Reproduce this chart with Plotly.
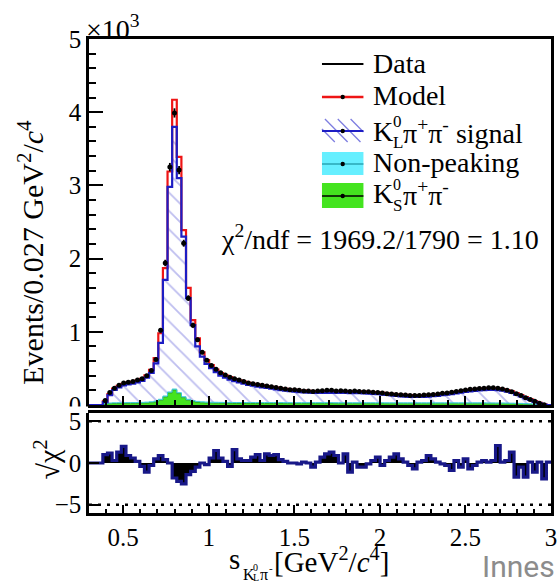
import math
import plotly.graph_objects as go

# ---------------------------------------------------------------------------
# Histogram binning: 100 bins of 0.027 GeV^2/c^4 starting at 0.3
# ---------------------------------------------------------------------------
bin_lo = 0.3
bin_width = 0.027
n_bins = 100

# Observed events per bin
data_counts = [
    0, 0, 0, 60, 170, 230, 270, 300, 310, 320,
    340, 360, 400, 470, 620, 1020, 1940, 3250, 3990, 3210,
    2210, 1460, 1090, 890, 720, 610, 540, 490, 440, 410,
    380, 360, 340, 320, 300, 290, 280, 270, 260, 250,
    240, 230, 220, 210, 210, 200, 190, 190, 185, 190,
    195, 200, 200, 190, 195, 190, 185, 190, 185, 180,
    180, 175, 170, 165, 155, 150, 145, 140, 135, 130,
    130, 130, 135, 140, 145, 150, 160, 165, 175, 185,
    195, 205, 215, 220, 225, 230, 235, 235, 230, 220,
    200, 180, 155, 130, 100, 75, 50, 25, 5, 0,
]

# Total fit model
model_counts = [
    0, 0, 0, 50, 150, 225, 262, 290, 305, 316,
    335, 358, 405, 480, 640, 980, 1870, 3190, 4170, 3390,
    2390, 1600, 1160, 910, 720, 615, 545, 485, 435, 405,
    380, 355, 338, 320, 302, 290, 278, 268, 258, 248,
    238, 229, 220, 212, 207, 201, 196, 192, 190, 189,
    189, 190, 190, 190, 189, 188, 187, 186, 185, 183,
    180, 176, 172, 166, 160, 153, 147, 141, 137, 134,
    132, 132, 133, 137, 142, 148, 155, 163, 171, 180,
    190, 200, 208, 215, 221, 226, 229, 229, 226, 218,
    205, 186, 162, 136, 108, 80, 54, 30, 10, 0,
]

# K_L pi+ pi- signal component
signal_counts = [
    0, 0, 0, 40, 135, 205, 240, 268, 283, 292,
    310, 330, 375, 440, 570, 850, 1710, 2980, 3800, 3100,
    2300, 1460, 1090, 800, 660, 560, 505, 450, 400, 372,
    348, 325, 308, 292, 275, 263, 252, 242, 232, 223,
    213, 204, 196, 188, 183, 177, 172, 168, 166, 165,
    165, 166, 166, 166, 165, 164, 163, 162, 161, 159,
    156, 152, 148, 142, 137, 130, 124, 119, 115, 112,
    110, 110, 111, 115, 120, 126, 133, 141, 149, 158,
    168, 178, 186, 193, 199, 204, 207, 207, 204, 197,
    184, 166, 143, 119, 93, 68, 44, 22, 5, 0,
]

# K_S pi+ pi- peaking background
ks_counts = [
    0, 0, 0, 14, 18, 20, 21, 21, 22, 22,
    23, 24, 27, 32, 42, 65, 110, 165, 205, 155,
    100, 65, 46, 36, 30, 27, 25, 24, 23, 22,
    22, 21, 21, 21, 20, 20, 20, 20, 20, 20,
    20, 20, 19, 19, 19, 19, 19, 19, 19, 19,
    19, 19, 19, 18, 18, 18, 18, 18, 18, 18,
    18, 18, 18, 18, 17, 17, 17, 17, 17, 17,
    17, 17, 17, 17, 17, 17, 17, 17, 17, 17,
    17, 17, 17, 17, 17, 17, 16, 16, 16, 16,
    15, 14, 13, 12, 10, 8, 6, 4, 2, 0,
]

# Non-peaking background
nonpeak_counts = [
    0, 0, 0, 6, 9, 10, 10, 11, 11, 11,
    11, 12, 12, 12, 12, 13, 13, 13, 13, 13,
    13, 13, 13, 13, 13, 13, 13, 13, 13, 13,
    13, 13, 13, 13, 13, 13, 13, 13, 13, 13,
    13, 13, 13, 13, 13, 13, 13, 13, 13, 13,
    13, 13, 13, 13, 13, 13, 13, 13, 13, 13,
    13, 13, 13, 13, 13, 13, 13, 13, 13, 13,
    13, 13, 13, 13, 13, 13, 13, 13, 13, 13,
    13, 13, 13, 13, 13, 13, 13, 13, 12, 12,
    12, 11, 11, 10, 9, 8, 6, 4, 2, 0,
]

# Signed sqrt(chi2) per bin
pull_values = [
    0.0, 0.0, 0.0, 1.0, 1.2, 0.3, 1.3, 2.0, 0.9, 0.6,
    0.2, -0.4, -1.1, -0.3, 0.5, 0.9, 0.4, 0.0, -1.8, -2.2,
    -2.5, -1.4, -1.0, -0.5, 0.0, -0.2, 0.6, 1.5, 0.6, 0.2,
    -0.4, 1.6, 0.5, 0.3, 0.3, 0.7, 1.0, 0.3, 1.1, 0.9,
    1.0, 0.4, 0.2, 0.0, 0.0, -0.1, 0.1, 0.0, -0.5, 0.1,
    0.7, 1.1, 1.3, 0.9, 0.0, 1.1, -1.1, 0.1, -0.5, -0.5,
    -0.1, 0.3, 0.7, -0.3, 0.3, 0.7, 1.1, 0.5, 0.1, -0.3,
    -0.7, 0.1, 0.3, 0.9, 0.5, 0.1, -0.1, -0.3, -0.9, 0.3,
    -0.5, 0.5, -0.7, -0.3, 0.1, 0.3, 0.1, 0.3, 2.1, 0.1,
    0.3, 1.3, -1.7, -0.5, -1.7, 0.1, -1.1, 0.1, -1.9, 0.1,
]

main_ticks = [0, 1000, 2000, 3000, 4000, 5000]
main_tick_text = ["0", "1", "2", "3", "4", "5"]
pull_ticks = [-5, 0, 5]
pull_tick_text = ["\u22125", "0", "5"]
x_ticks = [0.5, 1.0, 1.5, 2.0, 2.5, 2.9995]
x_tick_text = ["0.5", "1", "1.5", "2", "2.5", "3"]

SERIF = "Liberation Serif"

# ---------------------------------------------------------------------------
# Step-histogram helpers
# ---------------------------------------------------------------------------
edges = [bin_lo + bin_width * k for k in range(n_bins + 1)]
centers = [bin_lo + bin_width * (k + 0.5) for k in range(n_bins)]


def step(values):
    return edges, list(values) + [values[-1]]


stacked_bkg = [a + b for a, b in zip(ks_counts, nonpeak_counts)]

fig = go.Figure()

# hatched signal area
sx, sy = step(signal_counts)
fig.add_trace(go.Scatter(
    x=sx, y=sy, mode="lines", line=dict(width=0, shape="hv"),
    fill="tozeroy", fillcolor="rgba(0,0,0,0)",
    fillpattern=dict(shape="\\", fgcolor="#7d7de0", bgcolor="rgba(0,0,0,0)",
                     size=13, solidity=0.14),
    xaxis="x", yaxis="y", showlegend=False, hoverinfo="skip"))

# K_S pi pi (green) and non-peaking (cyan) stacked backgrounds
kx, ky = step(ks_counts)
fig.add_trace(go.Scatter(
    x=kx, y=ky, mode="lines", line=dict(width=1, shape="hv", color="#2fa818"),
    fill="tozeroy", fillcolor="#44e41f",
    xaxis="x", yaxis="y", showlegend=False, hoverinfo="skip"))
bx, by = step(stacked_bkg)
fig.add_trace(go.Scatter(
    x=bx, y=by, mode="lines", line=dict(width=1, shape="hv", color="#3cc8d8"),
    fill="tonexty", fillcolor="#66efff",
    xaxis="x", yaxis="y", showlegend=False, hoverinfo="skip"))

# total model
mx, my = step(model_counts)
fig.add_trace(go.Scatter(
    x=mx, y=my, mode="lines", line=dict(width=2.2, shape="hv", color="#ee1515"),
    xaxis="x", yaxis="y", showlegend=False, hoverinfo="skip"))

# signal outline
fig.add_trace(go.Scatter(
    x=sx, y=sy, mode="lines", line=dict(width=2.2, shape="hv", color="#1d1dc4"),
    xaxis="x", yaxis="y", showlegend=False, hoverinfo="skip"))

# data points
dx = [c for c, v in zip(centers, data_counts) if v > 0]
dy = [v for v in data_counts if v > 0]
fig.add_trace(go.Scatter(
    x=dx, y=dy, mode="markers",
    marker=dict(color="black", size=5),
    error_y=dict(type="data", array=[math.sqrt(v) for v in dy],
                 color="black", thickness=1.8, width=0),
    xaxis="x", yaxis="y", showlegend=False, hoverinfo="skip"))

# pull panel
px_, py_ = step(pull_values)
fig.add_trace(go.Scatter(
    x=px_, y=py_, mode="lines", line=dict(width=3.2, shape="hv", color="#181888"),
    fill="tozeroy", fillcolor="black",
    xaxis="x2", yaxis="y2", showlegend=False, hoverinfo="skip"))

# ---------------------------------------------------------------------------
# Layout
# ---------------------------------------------------------------------------
W, H = 559, 583
L, R, T, B = 89, 557, 39, 513


def fx(p):
    return (p - L) / (R - L)


def fy(p):
    return (B - p) / (B - T)


axis_common = dict(showline=True, linecolor="black", linewidth=2.5, mirror=True,
                   showgrid=False, zeroline=False, ticks="inside",
                   tickcolor="black", tickwidth=2,
                   tickfont=dict(family=SERIF, size=25, color="black"))

fig.update_layout(
    width=W, height=H,
    margin=dict(l=L, r=W - R, t=T, b=H - B),
    paper_bgcolor="white", plot_bgcolor="white",
    showlegend=False,
    xaxis=dict(axis_common, range=[0.3, 3.0], anchor="y", showticklabels=False,
               tickvals=x_ticks, ticklen=9,
               minor=dict(dtick=0.1, tick0=0.3, ticklen=5, ticks="inside",
                          tickcolor="black", tickwidth=1.5)),
    yaxis=dict(axis_common, range=[0, 5000], domain=[fy(405), 1.0], anchor="x",
               tickvals=main_ticks, ticktext=main_tick_text, ticklen=14,
               minor=dict(dtick=200, ticklen=7, ticks="inside",
                          tickcolor="black", tickwidth=2)),
    xaxis2=dict(axis_common, range=[0.3, 3.0], anchor="y2", matches="x",
                tickvals=x_ticks, ticktext=x_tick_text, ticklen=8,
                ticklabeloverflow="allow",
                minor=dict(dtick=0.1, tick0=0.3, ticklen=4, ticks="inside",
                           tickcolor="black", tickwidth=1.5)),
    yaxis2=dict(axis_common, range=[-6, 6], domain=[0, fy(413)], anchor="x2",
                tickvals=pull_ticks, ticktext=pull_tick_text, ticklen=10),
)

shapes = []
annotations = []

# dotted +-5 reference lines in the pull panel
for lvl in (5, -5):
    shapes.append(dict(type="line", xref="x2", yref="y2", x0=0.3, x1=3.0,
                       y0=lvl, y1=lvl,
                       line=dict(color="black", width=2.5, dash="3px,6px")))

# white gap between the two panels
shapes.append(dict(type="rect", xref="paper", yref="paper",
                   x0=fx(50), x1=fx(88), y0=fy(413), y1=fy(406.5),
                   fillcolor="white", line=dict(width=0), layer="above"))


def seg(x0, y0, x1, y1, color, width):
    shapes.append(dict(type="line", xref="paper", yref="paper",
                       x0=fx(x0), y0=fy(y0), x1=fx(x1), y1=fy(y1),
                       line=dict(color=color, width=width), layer="above"))


def box(x0, y0, x1, y1, color):
    shapes.append(dict(type="rect", xref="paper", yref="paper",
                       x0=fx(x0), y0=fy(y1), x1=fx(x1), y1=fy(y0),
                       fillcolor=color, line=dict(width=0), layer="above"))


def dot(xc, yc, r=2.2):
    shapes.append(dict(type="circle", xref="paper", yref="paper",
                       x0=fx(xc - r), x1=fx(xc + r), y0=fy(yc + r), y1=fy(yc - r),
                       fillcolor="black", line=dict(width=0), layer="above"))


def text(x, y, s, size=28, anchor="left", family=SERIF, color="black", angle=0):
    annotations.append(dict(xref="paper", yref="paper", x=fx(x), y=fy(y),
                            text=s, showarrow=False, xanchor=anchor,
                            yanchor="middle", textangle=angle,
                            font=dict(family=family, size=size, color=color)))


# legend
sx0, sx1 = 325, 367
tx = 375
seg(sx0, 64, sx1, 64, "black", 2)
text(tx, 63, "Data")

seg(sx0, 97, sx1, 97, "#ee1515", 2.5)
dot(346, 97)
text(tx, 96, "Model")

hy0, hy1 = 119, 142
c = sx0 - (hy1 - hy0)
while c < sx1:
    xs = max(sx0, c)
    xe = min(sx1, c + (hy1 - hy0))
    if xe > xs:
        seg(xs, hy0 + xs - c, xe, hy0 + xe - c, "#7d7de0", 1.3)
    c += 13
seg(sx0, 131, sx1, 131, "#1d1dc4", 2.2)
dot(346, 131)
text(tx, 131, "K")
text(395, 121, "0", size=17)
text(395, 142, "L", size=17)
text(405, 131, "\u03c0<sup>+</sup>\u03c0<sup>-</sup> signal")

box(sx0, 152, sx1, 175, "#66efff")
seg(sx0, 164, sx1, 164, "#2aa6b4", 1.5)
dot(346, 164)
text(tx, 162, "Non-peaking")

box(sx0, 183, sx1, 208, "#44e41f")
seg(sx0, 196, sx1, 196, "black", 1.5)
dot(346, 196)
text(tx, 193, "K")
text(395, 184, "0", size=16)
text(395, 205, "S", size=17)
text(405, 193, "\u03c0<sup>+</sup>\u03c0<sup>-</sup>")

# fit quality
text(221, 237, "\u03c7<sup>2</sup>/ndf = 1969.2/1790 = 1.10")

# exponent of the y scale
text(84, 28, "\u00d710<sup>3</sup>")

# axis titles
text(30, 252, "Events/0.027 GeV<sup>2</sup>/<i>c</i><sup>4</sup>",
     size=30, anchor="center", angle=-90)
text(46, 460, "\u221a\u03c7<sup>2</sup>", size=30, anchor="center", angle=-90)

text(229, 559, "s", size=29)
text(243, 574, "K", size=16)
text(253, 567, "0", size=10)
text(253, 577, "L", size=10)
text(260, 574, "\u03c0", size=16)
text(269, 568, "-", size=11)
text(274, 560, "[GeV<sup>2</sup>/<i>c</i><sup>4</sup>]", size=29)

text(485, 566, "Innes", size=30, family="Roboto", color="#8c8c8c")

fig.update_layout(shapes=shapes, annotations=annotations)

fig.write_html("out.html")
